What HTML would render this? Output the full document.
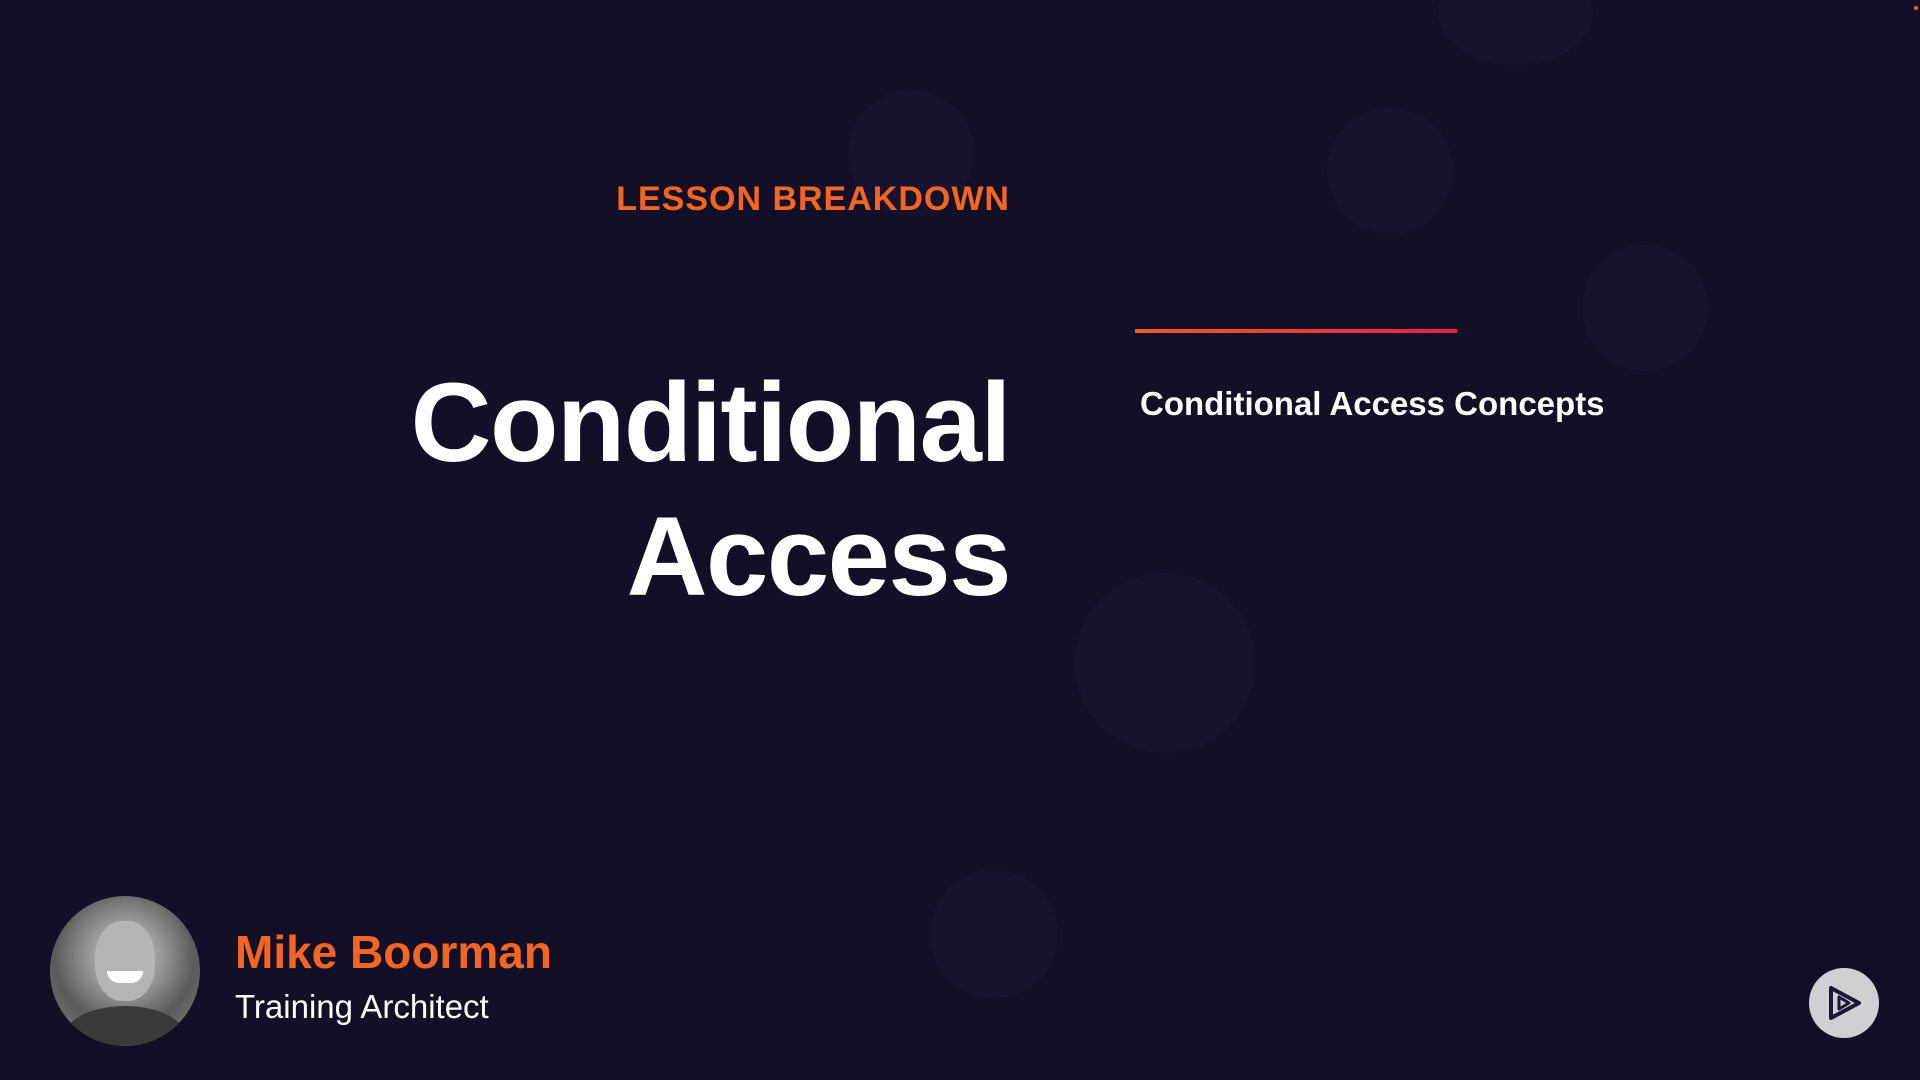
<!DOCTYPE html>
<html><head><meta charset="utf-8">
<style>
html,body{margin:0;padding:0;}
body{width:1920px;height:1080px;overflow:hidden;background:#130f26;position:relative;font-family:"Liberation Sans",sans-serif;}
.deco{position:absolute;border-radius:50%;background:#1a1636;opacity:.6;}
.abs{position:absolute;}
</style></head>
<body>
<div class="deco" style="left:848px;top:90px;width:126px;height:126px;"></div>
<div class="deco" style="left:1327px;top:108px;width:126px;height:126px;"></div>
<div class="deco" style="left:1582px;top:245px;width:126px;height:126px;"></div>
<div class="deco" style="left:1438px;top:-40px;width:155px;height:105px;"></div>
<div class="deco" style="left:1075px;top:573px;width:180px;height:180px;"></div>
<div class="deco" style="left:930px;top:870px;width:128px;height:128px;"></div>

<div class="abs" style="right:910px;top:180px;color:#f26522;font-size:34px;font-weight:bold;letter-spacing:1px;">LESSON BREAKDOWN</div>

<div class="abs" style="right:910px;top:356px;color:#fff;font-size:112px;font-weight:bold;line-height:134px;text-align:right;letter-spacing:-1.5px;">Conditional<br>Access</div>

<div class="abs" style="left:1135px;top:329px;width:322px;height:4px;background:linear-gradient(90deg,#f05a28,#e8204e);"></div>

<div class="abs" style="left:1140px;top:385px;color:#fff;font-size:33px;font-weight:bold;">Conditional Access Concepts</div>

<div class="abs" style="left:50px;top:896px;width:150px;height:150px;border-radius:50%;background:radial-gradient(circle at 50% 40%,#c8c8c8 0,#9a9a9a 30%,#5a5a5a 60%,#8a8a8a 100%);overflow:hidden;">
  <div style="position:absolute;left:45px;top:25px;width:60px;height:80px;border-radius:45%;background:#b5b5b5;"></div>
  <div style="position:absolute;left:57px;top:75px;width:36px;height:12px;border-radius:0 0 18px 18px;background:#fff;"></div>
  <div style="position:absolute;left:15px;top:110px;width:120px;height:60px;border-radius:50%;background:#3a3a3a;"></div>
</div>

<div class="abs" style="left:235px;top:925px;color:#f26522;font-size:46px;font-weight:bold;">Mike Boorman</div>
<div class="abs" style="left:235px;top:988px;color:#fff;font-size:33px;">Training Architect</div>

<div class="abs" style="left:1809px;top:968px;width:70px;height:70px;border-radius:50%;background:#cfcfd4;">
  <svg width="70" height="70" viewBox="0 0 70 70">
    <path d="M22 20 L22 50 L50 35 Z" fill="none" stroke="#1a1730" stroke-width="4" stroke-linejoin="round"/>
    <path d="M30 29 L30 41 L40 35 Z" fill="none" stroke="#1a1730" stroke-width="3" stroke-linejoin="round"/>
  </svg>
</div>
<div class="abs" style="left:1914px;top:6px;width:4px;height:4px;border-radius:50%;background:#f26522;"></div>
</body></html>
